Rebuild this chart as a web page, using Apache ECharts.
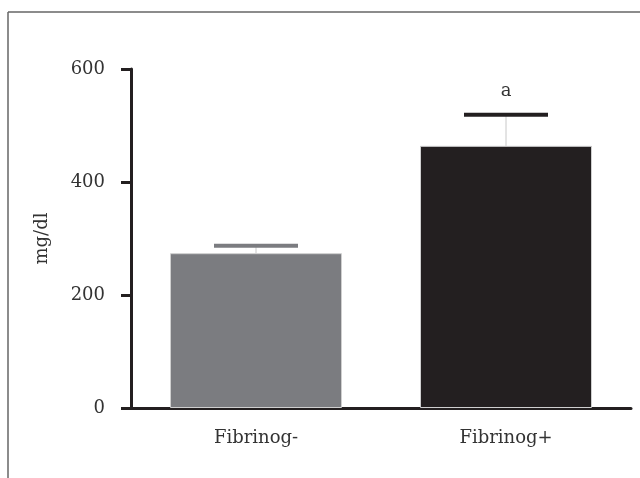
<!DOCTYPE html>
<html>
<head>
<meta charset="utf-8">
<script src="https://cdn.jsdelivr.net/npm/echarts@6/dist/echarts.min.js"></script>
<style>html,body{margin:0;padding:0;background:#fff;}#c{width:640px;height:478px;}</style>
</head>
<body>
<div id="c"></div>
<script>
const categories = ['Fibrinog-', 'Fibrinog+'];
const means = [274, 464];
const errorTops = [287, 519];
const sigLabels = ['', 'a'];
const barColors = ['#7b7c80', '#231f20'];
const capColors = ['#7b7c80', '#231f20'];
const yTicks = [0, 200, 400, 600];

const FONT = 'DejaVu Serif';
const TXT = '#333';
const chart = echarts.init(document.getElementById('c'));
chart.setOption({
  animation: false,
  backgroundColor: '#fff',
  grid: { left: 131, right: 9, top: 69, bottom: 70 },
  graphic: [
    { type: 'line', shape: { x1: 8, y1: 12, x2: 640, y2: 12 }, style: { stroke: '#666', lineWidth: 1.5 } },
    { type: 'line', shape: { x1: 8, y1: 12, x2: 8, y2: 478 }, style: { stroke: '#666', lineWidth: 1.5 } }
  ],
  xAxis: {
    type: 'category',
    data: categories,
    axisLine: { lineStyle: { color: '#231f20', width: 3 } },
    axisTick: { alignWithLabel: true, length: 8, lineStyle: { color: '#231f20', width: 3 } },
    axisLabel: { color: TXT, fontFamily: FONT, fontSize: 18, margin: 21 }
  },
  yAxis: {
    type: 'value',
    min: yTicks[0], max: yTicks[yTicks.length - 1], interval: 200,
    name: 'mg/dl', nameLocation: 'middle', nameGap: 80, nameRotate: 90,
    nameTextStyle: { color: TXT, fontFamily: FONT, fontSize: 18 },
    axisLine: { show: true, lineStyle: { color: '#231f20', width: 3 } },
    axisTick: { show: true, length: 10, lineStyle: { color: '#231f20', width: 3 } },
    axisLabel: { color: TXT, fontFamily: FONT, fontSize: 18, margin: 26 },
    splitLine: { show: false }
  },
  series: [
    {
      type: 'bar',
      barWidth: 172,
      data: means.map((v, i) => ({ value: v, itemStyle: { color: barColors[i], borderColor: '#cfcfcf', borderWidth: 1 } })),
      z: 2
    },
    {
      type: 'custom',
      z: 3,
      data: categories.map((c, i) => [i, means[i], errorTops[i]]),
      renderItem: function (params, api) {
        const i = api.value(0);
        const base = api.coord([i, api.value(1)]);
        const top = api.coord([i, api.value(2)]);
        const hw = 42;
        return {
          type: 'group',
          children: [
            { type: 'line', shape: { x1: base[0], y1: base[1], x2: top[0], y2: top[1] }, style: { stroke: '#c8c8c8', lineWidth: 1 } },
            { type: 'line', shape: { x1: top[0] - hw, y1: top[1], x2: top[0] + hw, y2: top[1] }, style: { stroke: capColors[i], lineWidth: 4 } },
            { type: 'text', x: top[0], y: top[1] - 14, style: { text: sigLabels[i], fill: TXT, font: '18px ' + FONT, align: 'center', verticalAlign: 'bottom' } }
          ]
        };
      }
    }
  ]
});
</script>
</body>
</html>
